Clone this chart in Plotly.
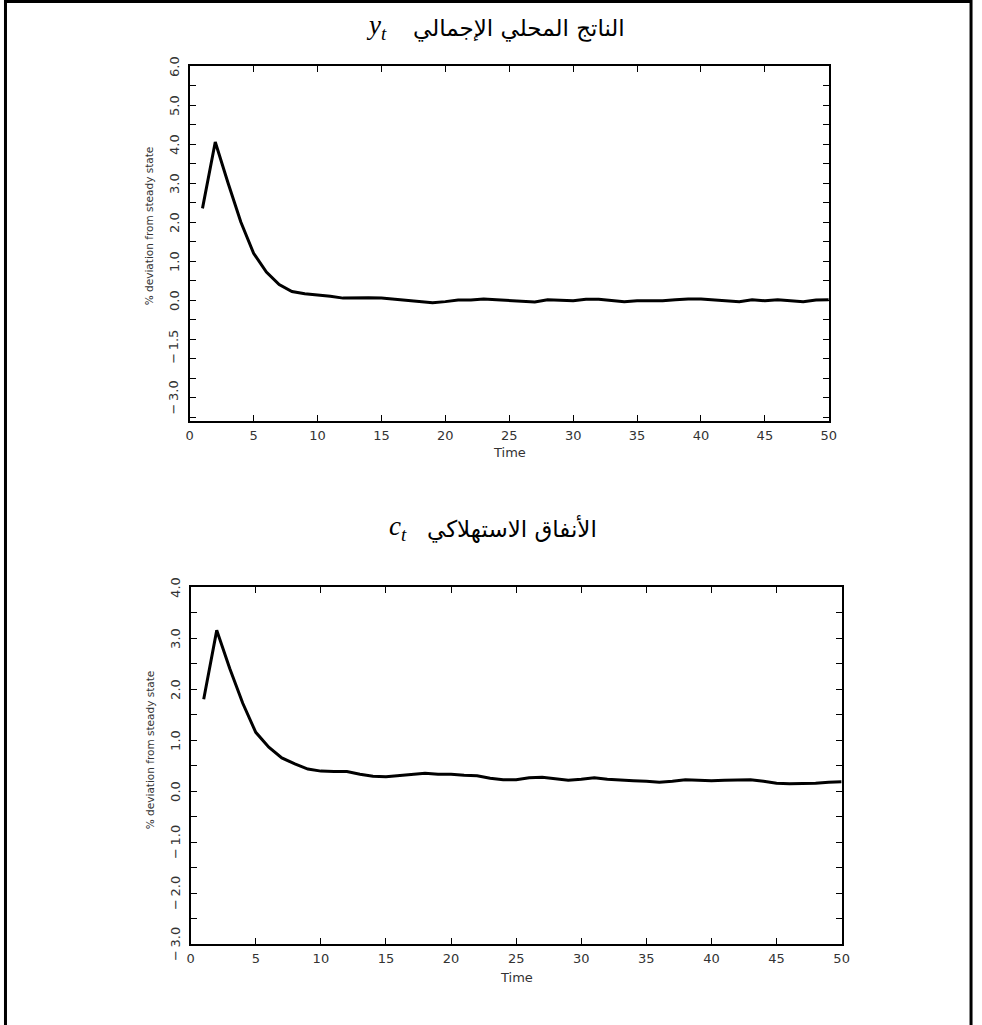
import plotly.graph_objects as go

W, H = 982, 1025

# ---------------- data ----------------
time = list(range(1, 51))
output_dev = [2.35, 4.05, 3.00, 2.00, 1.20, 0.72, 0.40, 0.22, 0.16, 0.13,
              0.10, 0.05, 0.06, 0.06, 0.05, 0.02, 0.00, -0.04, -0.07, -0.04,
              0.00, 0.00, 0.03, 0.01, -0.01, -0.02, -0.05, 0.01, -0.01, -0.02,
              0.02, 0.02, -0.01, -0.04, -0.02, -0.02, -0.02, 0.01, 0.03, 0.03,
              0.01, -0.02, -0.04, 0.01, -0.02, 0.01, -0.02, -0.04, 0.00, 0.01]
consumption_dev = [1.80, 3.15, 2.40, 1.72, 1.15, 0.86, 0.65, 0.53, 0.43, 0.39,
                   0.38, 0.38, 0.33, 0.29, 0.28, 0.30, 0.33, 0.35, 0.33, 0.33,
                   0.31, 0.30, 0.25, 0.22, 0.22, 0.26, 0.27, 0.24, 0.21, 0.23,
                   0.26, 0.23, 0.21, 0.20, 0.19, 0.17, 0.19, 0.22, 0.21, 0.20,
                   0.21, 0.22, 0.22, 0.19, 0.15, 0.14, 0.14, 0.15, 0.17, 0.18]

x_tick_vals = [0, 5, 10, 15, 20, 25, 30, 35, 40, 45, 50]
top_y_labels = ["6.0", "5.0", "4.0", "3.0", "2.0", "1.0", "0.0", "\u2212\u20091.5", "\u2212\u20093.0"]
top_y_label_pos = [6, 5, 4, 3, 2, 1, 0, -1.2, -2.5]
bot_y_labels = ["4.0", "3.0", "2.0", "1.0", "0.0", "\u2212\u20091.0", "\u2212\u20092.0", "\u2212\u20093.0"]
bot_y_label_pos = [4, 3, 2, 1, 0, -1, -2, -3]

title_top_ar = "الناتج المحلي الإجمالي"
title_bot_ar = "الأنفاق الاستهلاكي"
y_title = "% deviation from steady state"
x_title = "Time"


def px(x):
    return x / W


def py(y):
    return 1 - y / H


TICK_FONT = dict(family="DejaVu Sans", size=13, color="#333333")

fig = go.Figure()
fig.add_trace(go.Scatter(x=time, y=output_dev, mode="lines",
                         line=dict(color="black", width=3), xaxis="x", yaxis="y",
                         showlegend=False))
fig.add_trace(go.Scatter(x=time, y=consumption_dev, mode="lines",
                         line=dict(color="black", width=3), xaxis="x2", yaxis="y2",
                         showlegend=False))

common_x = dict(range=[0, 50], tickmode="array", tickvals=x_tick_vals,
                ticks="inside", ticklen=6, tickwidth=1, tickcolor="black",
                showline=True, linecolor="black", linewidth=2, mirror="ticks",
                showgrid=False, zeroline=False, tickfont=TICK_FONT,
                ticklabelstandoff=1)
common_y = dict(tickmode="linear", dtick=0.5, ticks="inside", ticklen=6,
                tickwidth=1, tickcolor="black", showticklabels=False,
                showline=True, linecolor="black", linewidth=2, mirror="ticks",
                showgrid=False, zeroline=False)

top_x0, top_x1, top_y0, top_y1 = 188, 835, 66, 421
bot_x0, bot_x1, bot_y0, bot_y1 = 189, 848, 587, 944

fig.update_layout(
    width=W, height=H,
    margin=dict(l=0, r=0, t=0, b=0),
    paper_bgcolor="white", plot_bgcolor="white",
    xaxis=dict(domain=[px(top_x0), px(top_x1)], anchor="y", **common_x),
    yaxis=dict(domain=[py(top_y1), py(top_y0)], anchor="x", range=[-3.1, 6.0],
               tick0=0, **common_y),
    xaxis2=dict(domain=[px(bot_x0), px(bot_x1)], anchor="y2", **common_x),
    yaxis2=dict(domain=[py(bot_y1), py(bot_y0)], anchor="x2", range=[-3.0, 4.0],
                tick0=0, **common_y),
)

ann = []


def note(text, x, y, font, yref="paper", angle=0):
    ann.append(dict(text=text, xref="paper", yref=yref, x=x, y=y, textangle=angle,
                    showarrow=False, font=font, xanchor="center", yanchor="middle"))


# y tick labels (rotated)
for lab, pos in zip(top_y_labels, top_y_label_pos):
    note(lab, px(top_x0 - 16), pos, TICK_FONT, yref="y", angle=-90)
for lab, pos in zip(bot_y_labels, bot_y_label_pos):
    note(lab, px(bot_x0 - 16), pos, TICK_FONT, yref="y2", angle=-90)

# axis titles
YT_FONT = dict(family="DejaVu Sans", size=10.5, color="#333333")
note(y_title, px(147), py(226), YT_FONT, angle=-90)
note(y_title, px(148), py(750), YT_FONT, angle=-90)
note(x_title, px((top_x0 + top_x1) / 2), py(453), TICK_FONT)
note(x_title, px((bot_x0 + bot_x1) / 2), py(977), TICK_FONT)

# panel titles
AR_FONT = dict(family="DejaVu Sans", size=23, color="black")
MATH_FONT = dict(family="Liberation Serif", size=27, color="black")
note(title_top_ar, px(521), py(28), AR_FONT)
note("<i>y</i><sub><i>t</i></sub>", px(377), py(27), MATH_FONT)
note(title_bot_ar, px(514), py(529), AR_FONT)
note("<i>c</i><sub><i>t</i></sub>", px(399), py(528), MATH_FONT)
fig.update_layout(annotations=ann)

# outer frame
fig.add_shape(type="rect", xref="paper", yref="paper",
              x0=px(1.5), x1=px(979), y0=py(1030), y1=py(1.5),
              line=dict(color="black", width=3), fillcolor="rgba(0,0,0,0)")

fig.write_html("out.html", config={"displayModeBar": False},
               post_script="document.body.style.margin='0';document.body.style.overflow='hidden';")
